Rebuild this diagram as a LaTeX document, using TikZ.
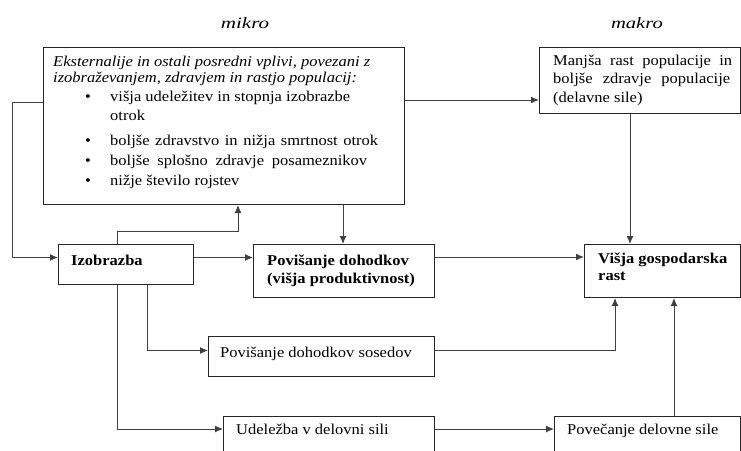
\documentclass[tikz,border=0pt]{standalone}
\usepackage{fontspec}
\setmainfont[FakeStretch=1.1]{Liberation Serif}
\usetikzlibrary{arrows.meta,calc}
\begin{document}
\begin{tikzpicture}[x=1pt,y=-1pt,
  box/.style={draw=black!85, line width=1pt, anchor=north west, inner sep=0pt},
  txt/.style={anchor=base west, inner sep=0pt, font=\fontsize{15}{17}\selectfont},
  btxt/.style={txt, font=\fontsize{15}{17}\selectfont\bfseries},
  itxt/.style={txt, font=\fontsize{15}{17}\selectfont\itshape},
  arr/.style={draw=black!75, line width=1pt, -{Latex[length=8pt,width=7pt]}}]
\clip (0,0) rectangle (741,450);
\fill[white] (0,0) rectangle (741,450);

% headings
\node[itxt, anchor=base] (mikro) at (245,28) {\scalebox{1.28}[1.05]{mikro}};
\node[itxt, anchor=base] (makro) at (637,28) {\scalebox{1.25}[1.05]{makro}};

% boxes
\node[box, minimum width=361pt, minimum height=157pt] (ext) at (43,47) {};
\node[box, minimum width=201pt, minimum height=66pt] (man) at (539,47) {};
\node[box, minimum width=135pt, minimum height=40pt] (iz) at (58,244) {};
\node[box, minimum width=181pt, minimum height=53pt] (pov) at (253,244) {};
\node[box, minimum width=156pt, minimum height=53pt] (vis) at (584,244) {};
\node[box, minimum width=226pt, minimum height=40pt] (sos) at (208,336) {};
\node[box, minimum width=211pt, minimum height=60pt] (ude) at (223,416) {};
\node[box, minimum width=186pt, minimum height=60pt] (pvc) at (554,416) {};

% texts
\node[itxt] (e1) at (53,66) {Eksternalije in ostali posredni vplivi, povezani z};
\node[itxt] (e2) at (53,82) {izobraževanjem, zdravjem in rastjo populacij:};
\node[txt, anchor=base] (b1) at (88,101) {\textbullet};
\node[txt] (e3) at (110,101) {višja udeležitev in stopnja izobrazbe};
\node[txt] (e4) at (110,120) {otrok};
\node[txt, anchor=base] (b2) at (88,145) {\textbullet};
\node[txt] (e5) at (110,145) {\makebox[268pt][s]{boljše zdravstvo in nižja smrtnost otrok}};
\node[txt, anchor=base] (b3) at (88,165) {\textbullet};
\node[txt] (e6) at (110,165) {\makebox[257pt][s]{boljše splošno zdravje posameznikov}};
\node[txt, anchor=base] (b4) at (88,185) {\textbullet};
\node[txt] (e7) at (110,185) {nižje število rojstev};

\node[txt] (m1) at (553,65) {\makebox[179pt][s]{Manjša rast populacije in}};
\node[txt] (m2) at (553,83.5) {\makebox[177pt][s]{boljše zdravje populacije}};
\node[txt] (m3) at (553,102) {(delavne sile)};

\node[btxt] (v1) at (598,263) {Višja gospodarska};
\node[btxt] (v2) at (598,280) {rast};
\node[btxt] (i1) at (71,265) {Izobrazba};
\node[btxt] (p1) at (267,265) {Povišanje dohodkov};
\node[btxt] (p2) at (267,283) {(višja produktivnost)};
\node[txt] (s1) at (220,357) {Povišanje dohodkov sosedov};
\node[txt] (u1) at (236,434) {Udeležba v delovni sili};
\node[txt] (c1) at (567,434) {Povečanje delovne sile};

% helper coordinates
\coordinate (X117) at (117,0);
\coordinate (X147) at (147,0);
\coordinate (X343) at (343,0);
\coordinate (X615) at (615,0);
\coordinate (X674) at (674,0);
\coordinate (k1) at (238,231);

% connectors
\draw[arr] ([yshift=-53pt]ext.north east) -- ([yshift=-53pt]ext.north east -| man.west);
\draw[arr] ([xshift=-10pt]man.south) -- ([xshift=-10pt]man.south |- vis.north);
\draw[arr] ([yshift=-55pt]ext.north west) -- ++(-31,0) |- ([yshift=7pt]iz.west);
\draw[arr] ([yshift=7pt]iz.east) -- ([yshift=7pt]iz.east -| pov.west);
\draw[arr] ([yshift=-13pt]pov.north east) -- ([yshift=-13pt]pov.north east -| vis.west);
\draw[arr] (ext.south -| X343) -- (pov.north -| X343);
\draw[arr] (iz.north -| X117) |- (k1) -- (k1 |- ext.south);
\draw[arr] (iz.south -| X147) |- ([yshift=6pt]sos.west);
\draw[arr] ([yshift=6pt]sos.east) -| (vis.south -| X615);
\draw[arr] (iz.south -| X117) |- ([yshift=-13pt]ude.north west);
\draw[arr] ([yshift=-13pt]ude.north east) -- ([yshift=-13pt]pvc.north west);
\draw[arr] (pvc.north -| X674) -- (vis.south -| X674);
\end{tikzpicture}
\end{document}
